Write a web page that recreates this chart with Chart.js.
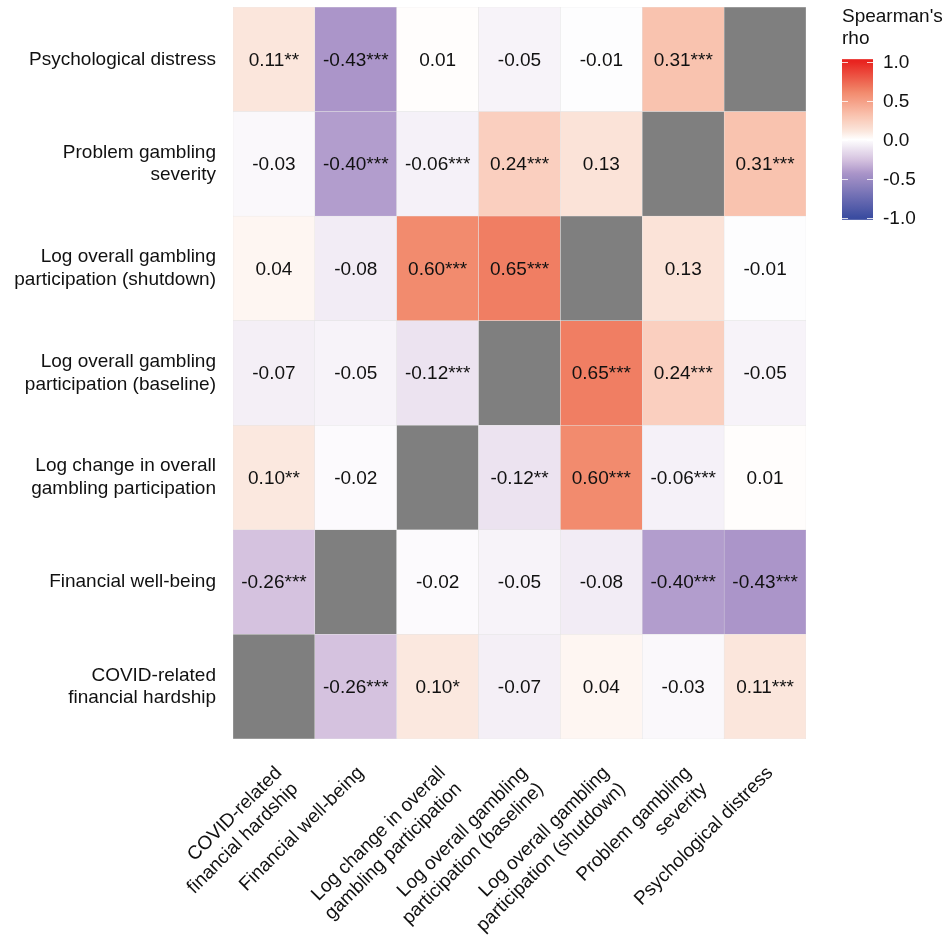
<!DOCTYPE html>
<html><head><meta charset="utf-8">
<script src="https://cdn.jsdelivr.net/npm/chart.js@4/dist/chart.umd.min.js"></script>
<style>html,body{margin:0;padding:0;background:#fff}#wrap{width:948px;height:940px}</style>
</head><body><div id="wrap"><canvas id="c" width="948" height="940"></canvas></div>
<script>
// Variables (same order on x from left, and on y from bottom)
const variables = [
  "COVID-related financial hardship",
  "Financial well-being",
  "Log change in overall gambling participation",
  "Log overall gambling participation (baseline)",
  "Log overall gambling participation (shutdown)",
  "Problem gambling severity",
  "Psychological distress"
];
const tickLabels = [
  ["COVID-related", "financial hardship"],
  ["Financial well-being"],
  ["Log change in overall", "gambling participation"],
  ["Log overall gambling", "participation (baseline)"],
  ["Log overall gambling", "participation (shutdown)"],
  ["Problem gambling", "severity"],
  ["Psychological distress"]
];

// Spearman's rho per row (row = y variable), columns in x order; null = diagonal
const rhoCovid     = [null, -0.26, 0.10, -0.07, 0.04, -0.03, 0.11];
const rhoFinancial = [-0.26, null, -0.02, -0.05, -0.08, -0.40, -0.43];
const rhoLogChange = [0.10, -0.02, null, -0.12, 0.60, -0.06, 0.01];
const rhoBaseline  = [-0.07, -0.05, -0.12, null, 0.65, 0.24, -0.05];
const rhoShutdown  = [0.04, -0.08, 0.60, 0.65, null, 0.13, -0.01];
const rhoProblem   = [-0.03, -0.40, -0.06, 0.24, 0.13, null, 0.31];
const rhoDistress  = [0.11, -0.43, 0.01, -0.05, -0.01, 0.31, null];

// Significance stars
const starsCovid     = ["", "***", "*", "", "", "", "***"];
const starsFinancial = ["***", "", "", "", "", "***", "***"];
const starsLogChange = ["**", "", "", "**", "***", "***", ""];
const starsBaseline  = ["", "", "***", "", "***", "***", ""];
const starsShutdown  = ["", "", "***", "***", "", "", ""];
const starsProblem   = ["", "***", "***", "***", "", "", "***"];
const starsDistress  = ["**", "***", "", "", "", "***", ""];

const rowValues = [rhoCovid, rhoFinancial, rhoLogChange, rhoBaseline, rhoShutdown, rhoProblem, rhoDistress];
const rowStars  = [starsCovid, starsFinancial, starsLogChange, starsBaseline, starsShutdown, starsProblem, starsDistress];

const colorbarTicks = [1.0, 0.5, 0.0, -0.5, -1.0];
const legendTitle = ["Spearman's", "rho"];

// colour scale anchors
const posAnchors = [[0, [255,255,255]], [0.11, [251,230,220]], [0.31, [249,195,175]], [0.60, [242,139,110]], [0.65, [240,126,99]], [1.0, [232,35,31]]];
const negAnchors = [[0, [255,255,255]], [0.26, [213,194,223]], [0.43, [171,149,201]], [1.0, [58,76,160]]];
const naColor = '#7F7F7F';

function rhoColor(v) {
  const anchors = v >= 0 ? posAnchors : negAnchors;
  const a = Math.min(1, Math.abs(v));
  for (let i = 1; i < anchors.length; i++) {
    if (a <= anchors[i][0]) {
      const [v0, c0] = anchors[i-1], [v1, c1] = anchors[i];
      const t = (a - v0) / (v1 - v0);
      const c = c0.map((x, k) => Math.round(x + (c1[k] - x) * t));
      return `rgb(${c[0]},${c[1]},${c[2]})`;
    }
  }
  const c = anchors[anchors.length-1][1];
  return `rgb(${c[0]},${c[1]},${c[2]})`;
}

const FONT = '"Liberation Sans", Arial, sans-serif';

const cellText = {
  id: 'cellText',
  afterDatasetsDraw(chart) {
    const ctx = chart.ctx;
    ctx.save();
    ctx.font = '19px ' + FONT;
    ctx.fillStyle = '#111';
    ctx.textAlign = 'center';
    ctx.textBaseline = 'middle';
    rowValues.forEach((vals, r) => {
      const meta = chart.getDatasetMeta(r);
      meta.data.forEach((el, c) => {
        const v = vals[c];
        if (v === null) return;
        ctx.fillText(v.toFixed(2) + rowStars[r][c], el.x, (el.y + el.base) / 2 + 1);
      });
    });
    ctx.restore();
  }
};

const colorbar = {
  id: 'colorbar',
  afterDraw(chart) {
    const ctx = chart.ctx;
    const x0 = chart.chartArea.right + 36, w = 31;
    const mid = 139.5, k = 78;
    const yOf = v => mid - v * k;
    const top = yOf(1.03), bot = yOf(-1.03);
    ctx.save();
    const g = ctx.createLinearGradient(0, top, 0, bot);
    for (let i = 0; i <= 100; i++) {
      const v = 1.03 - 2.06 * i / 100;
      g.addColorStop(i / 100, rhoColor(Math.max(-1, Math.min(1, v))));
    }
    ctx.fillStyle = g;
    ctx.fillRect(x0, top, w, bot - top);
    ctx.strokeStyle = 'rgba(255,255,255,0.8)';
    ctx.lineWidth = 1;
    colorbarTicks.forEach(t => {
      const y = Math.round(yOf(t)) + 0.5;
      ctx.beginPath();
      ctx.moveTo(x0, y); ctx.lineTo(x0 + 6, y);
      ctx.moveTo(x0 + w - 6, y); ctx.lineTo(x0 + w, y);
      ctx.stroke();
    });
    ctx.fillStyle = '#111';
    ctx.font = '19px ' + FONT;
    ctx.textAlign = 'left';
    ctx.textBaseline = 'middle';
    colorbarTicks.forEach(t => {
      ctx.fillText(t.toFixed(1), x0 + 41, yOf(t) + 1);
    });
    ctx.textBaseline = 'alphabetic';
    legendTitle.forEach((s, i) => ctx.fillText(s, x0, 22 + i * 22));
    ctx.restore();
  }
};

new Chart(document.getElementById('c'), {
  type: 'bar',
  data: {
    labels: variables,
    datasets: rowValues.map((vals, r) => ({
      label: variables[r],
      data: vals.map(() => 1),
      backgroundColor: vals.map(v => v === null ? naColor : rhoColor(v)),
      borderColor: '#E4E4E4',
      borderWidth: 0.5,
      borderSkipped: false,
      barPercentage: 1,
      categoryPercentage: 1
    }))
  },
  options: {
    responsive: false,
    animation: false,
    devicePixelRatio: 1,
    layout: { padding: { top: 7, right: 142, left: 0, bottom: 0 } },
    plugins: { legend: { display: false }, tooltip: { enabled: false } },
    scales: {
      x: {
        stacked: true,
        grid: { display: false, drawTicks: false },
        border: { display: false },
        ticks: {
          minRotation: 45, maxRotation: 45, padding: 23, labelOffset: 5,
          color: '#111', font: { size: 19, family: FONT, lineHeight: 1.2 },
          callback: (v, i) => tickLabels[i]
        },
        afterFit: s => { s.height = 201; s.paddingLeft = 0; s.paddingRight = 0; }
      },
      y: {
        stacked: true,
        min: 0, max: 7,
        grid: { display: false, drawTicks: false },
        border: { display: false },
        afterBuildTicks: s => { s.ticks = variables.map((_, i) => ({ value: i + 0.5 })); },
        ticks: {
          padding: 17,
          color: '#111', font: { size: 19, family: FONT, lineHeight: 1.2 },
          callback: (v) => tickLabels[Math.floor(v)]
        },
        afterFit: s => { s.width = 233; s.paddingTop = 0; s.paddingBottom = 0; }
      }
    }
  },
  plugins: [cellText, colorbar]
});
</script>
</body></html>
